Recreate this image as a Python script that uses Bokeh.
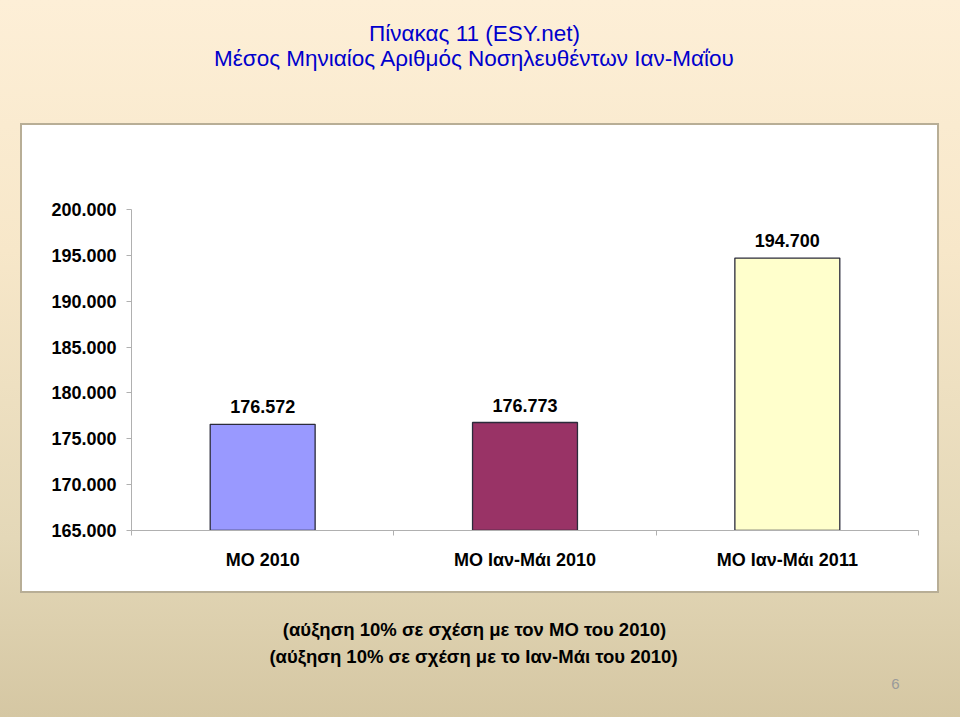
from bokeh.plotting import figure
from bokeh.layouts import column
from bokeh.models import Range1d, FixedTicker, ColumnDataSource, LabelSet
from bokeh.core.properties import value
from bokeh.embed import file_html
from bokeh.resources import INLINE
import numpy as np

# ---- data ----
categories = ["ΜΟ 2010", "ΜΟ Ιαν-Μάι 2010", "ΜΟ Ιαν-Μάι 2011"]
values = [176572, 176773, 194700]
value_labels = ["176.572", "176.773", "194.700"]
bar_colors = ["#9999FF", "#993366", "#FFFFCC"]
y_ticks = [165000, 170000, 175000, 180000, 185000, 190000, 195000, 200000]
title_lines = ["Πίνακας 11 (ESY.net)", "Μέσος Μηνιαίος Αριθμός Νοσηλευθέντων Ιαν-Μαΐου"]
note_lines = ["(αύξηση 10% σε σχέση με τον ΜΟ του 2010)",
              "(αύξηση 10% σε σχέση με το Ιαν-Μάι του 2010)"]
page_number = "6"

FONT = "Liberation Sans"
W = 960
TOP_H, MAIN_H, BOT_H = 124, 468, 125
FL, FR = 131, 918
NC = len(categories)


def text_panel(h):
    f = figure(width=W, height=h, output_backend="svg", toolbar_location=None,
               x_range=Range1d(FL, FR), y_range=Range1d(h, 0),
               x_axis_location=None, y_axis_location=None,
               min_border_left=FL, min_border_right=W - FR,
               min_border_top=0, min_border_bottom=0)
    f.border_fill_color = None
    f.background_fill_color = None
    f.outline_line_color = None
    f.grid.visible = False
    return f


# ---- title panel ----
top = text_panel(TOP_H)
top.text(x=[474, 474], y=[33, 58], text=title_lines, text_align="center",
         text_baseline="middle", text_font=value(FONT), text_font_size="22.5px",
         text_color="#0000cc")

# ---- main chart ----
p = figure(width=W, height=MAIN_H, output_backend="svg", toolbar_location=None,
           x_range=Range1d(0, NC), y_range=Range1d(y_ticks[0], y_ticks[-1]),
           min_border_left=FL, min_border_right=W - FR,
           min_border_top=209 - TOP_H, min_border_bottom=TOP_H + MAIN_H - 530)
p.border_fill_color = None
p.background_fill_color = "white"
p.outline_line_color = None
p.grid.visible = False

xs = list(np.arange(NC) + 0.5)
src = ColumnDataSource(dict(x=xs, top=values, color=bar_colors, label=value_labels))
p.vbar(x="x", top="top", bottom=y_ticks[0], width=0.4, source=src,
       fill_color="color", line_color="#2b2b3b", line_width=1.3)

labels = LabelSet(x="x", y="top", text="label", source=src, y_offset=11,
                  text_align="center", text_baseline="alphabetic",
                  text_font=value(FONT), text_font_style="bold",
                  text_font_size="18px", text_color="black")
p.add_layout(labels)

ax = p.xaxis[0]
ax.ticker = FixedTicker(ticks=xs, minor_ticks=list(range(NC + 1)))
ax.major_label_overrides = {float(x): c for x, c in zip(xs, categories)}
ax.major_tick_line_color = None
ax.minor_tick_in = 0
ax.minor_tick_out = 5
ax.minor_tick_line_color = "#b0b0b0"
ax.axis_line_color = "#b0b0b0"
ax.major_label_standoff = 13
ax.major_label_text_font = FONT
ax.major_label_text_font_style = "bold"
ax.major_label_text_font_size = "18px"
ax.major_label_text_color = "black"

ay = p.yaxis[0]
ay.ticker = FixedTicker(ticks=y_ticks, minor_ticks=[])
ay.major_label_overrides = {t: f"{t:,}".replace(",", ".") for t in y_ticks}
ay.major_tick_in = 0
ay.major_tick_out = 5
ay.major_tick_line_color = "#b0b0b0"
ay.axis_line_color = "#b0b0b0"
ay.minor_tick_line_color = None
ay.major_label_standoff = 10
ay.major_label_text_font = FONT
ay.major_label_text_font_style = "bold"
ay.major_label_text_font_size = "18px"
ay.major_label_text_color = "black"

# ---- notes panel ----
bot = text_panel(BOT_H)
bot.text(x=[474, 473], y=[37, 64], text=note_lines, text_align="center",
         text_baseline="middle", text_font=value(FONT), text_font_size="18.5px",
         text_font_style="bold", text_color="black")
bot.text(x=[895], y=[91], text=[page_number], text_align="center",
         text_baseline="middle", text_font=value(FONT), text_font_size="15px",
         text_color="#9a9a9a")

layout = column(top, p, bot, spacing=0)
layout.styles = {
    "background": (
        "linear-gradient(#ffffff,#ffffff) 22px 125px / 915px 466px no-repeat, "
        "linear-gradient(#b8ae96,#b8ae96) 20px 123px / 919px 470px no-repeat, "
        "linear-gradient(to bottom, #fdefd7 0%, #f7e7c9 35%, #e4d8b8 75%, #d5c7a3 100%)"
    )
}

open("out.html", "w").write(file_html(layout, INLINE))
